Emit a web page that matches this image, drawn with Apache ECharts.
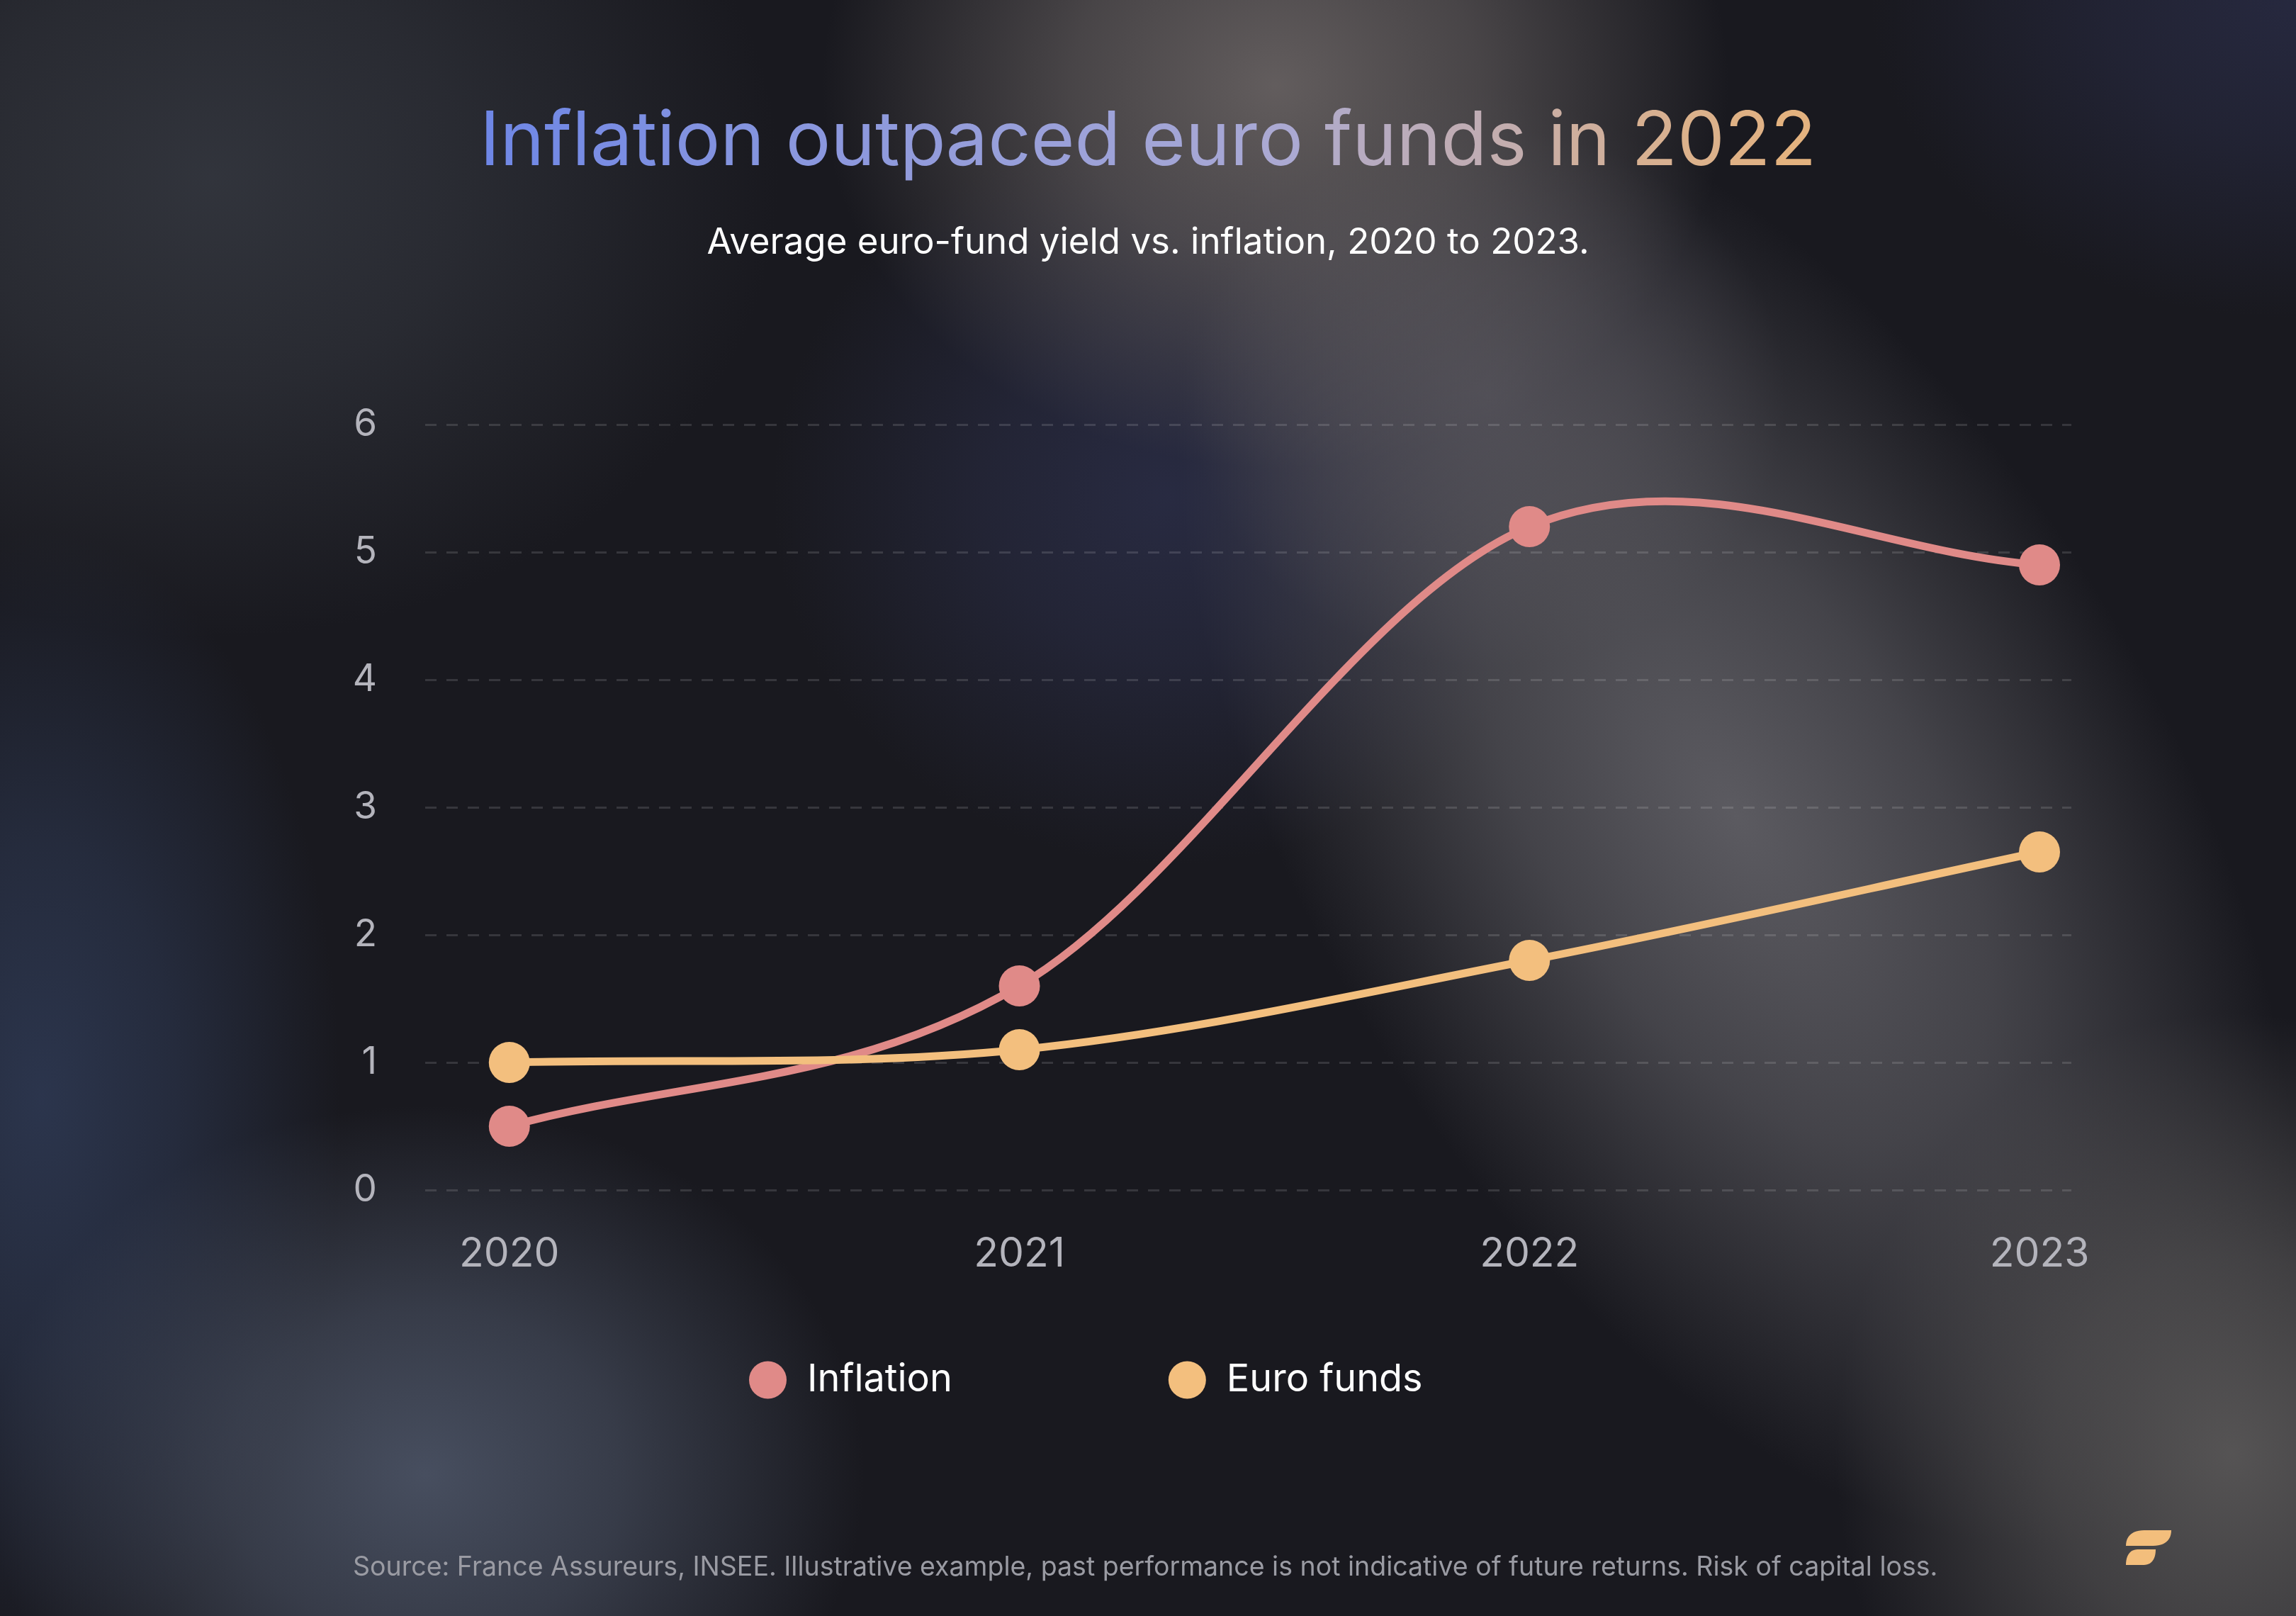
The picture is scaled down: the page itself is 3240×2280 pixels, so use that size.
<!DOCTYPE html>
<html>
<head>
<meta charset="utf-8">
<script src="https://cdn.jsdelivr.net/npm/echarts@6/dist/echarts.min.js"></script>
<style>
  html, body { margin: 0; padding: 0; background: #19191f; }
  #chart { width: 3240px; height: 2280px; }
</style>
</head>
<body>
<div id="chart"></div>
<script>
// data
const years = [2020, 2021, 2022, 2023];
const inflation = [0.5, 1.6, 5.2, 4.9];
const euroFunds = [1.0, 1.1, 1.8, 2.65];
const seriesNames = ['Inflation', 'Euro funds'];
const titleText = 'Inflation outpaced euro funds in 2022';
const subtitleText = 'Average euro-fund yield vs. inflation, 2020 to 2023.';
const sourceText = 'Source: France Assureurs, INSEE. Illustrative example, past performance is not indicative of future returns. Risk of capital loss.';

const FONT = 'Inter, "Noto Sans", sans-serif';
const PINK = '#e08a88';
const PEACH = '#f3bf7e';

// title gradient: blue -> lavender -> peach, one rich token per character
function mix(a, b, t) {
    const pa = [1, 3, 5].map(i => parseInt(a.substr(i, 2), 16));
    const pb = [1, 3, 5].map(i => parseInt(b.substr(i, 2), 16));
    return 'rgb(' + pa.map((v, i) => Math.round(v + (pb[i] - v) * t)).join(',') + ')';
}
function gradAt(t) {
    if (t < 0.6) return mix('#6f87e6', '#a9a9d4', t / 0.6);
    return mix('#a9a9d4', '#e3b27f', (t - 0.6) / 0.4);
}
let titleRich = {};
let titleStr = '';
for (let i = 0; i < titleText.length; i++) {
    const key = 'c' + i;
    titleRich[key] = { color: gradAt(i / (titleText.length - 1)), fontSize: 106, fontFamily: FONT, fontWeight: 400 };
    titleStr += '{' + key + '|' + titleText[i] + '}';
}

// soft background glows
function glow(cx, cy, rx, ry, rot, color, alpha) {
    const c = color.replace('#', '');
    const r = parseInt(c.substr(0, 2), 16), g = parseInt(c.substr(2, 2), 16), b = parseInt(c.substr(4, 2), 16);
    return {
        type: 'circle',
        silent: true,
        z: -10,
        x: cx, y: cy,
        rotation: rot,
        scaleX: rx / ry,
        shape: { cx: 0, cy: 0, r: ry },
        style: {
            fill: new echarts.graphic.RadialGradient(0.5, 0.5, 0.5, [
                { offset: 0, color: `rgba(${r},${g},${b},${alpha})` },
                { offset: 0.45, color: `rgba(${r},${g},${b},${alpha * 0.65})` },
                { offset: 1, color: `rgba(${r},${g},${b},0)` }
            ])
        }
    };
}

// logo leaf: cubic curves sampled into a polygon
function leaf(x0, y0, w, h) {
    const pts = [];
    const cub = (p0, p1, p2, p3) => {
        for (let k = 0; k <= 12; k++) {
            const t = k / 12, u = 1 - t;
            pts.push([
                u * u * u * p0[0] + 3 * u * u * t * p1[0] + 3 * u * t * t * p2[0] + t * t * t * p3[0],
                u * u * u * p0[1] + 3 * u * u * t * p1[1] + 3 * u * t * t * p2[1] + t * t * t * p3[1]
            ]);
        }
    };
    cub([x0, y0 + h], [x0, y0 + h * 0.35], [x0 + w * 0.15, y0], [x0 + w * 0.4, y0]);
    pts.push([x0 + w, y0]);
    cub([x0 + w, y0], [x0 + w, y0 + h * 0.65], [x0 + w * 0.85, y0 + h], [x0 + w * 0.6, y0 + h]);
    return {
        type: 'polygon',
        silent: true,
        shape: { points: pts },
        style: { fill: '#f3be7c' }
    };
}

// cardinal spline segment i -> i+1, positions from the axes via api.coord
function curveSeries(name, values, color, z) {
    return {
        name: name,
        type: 'custom',
        z: z,
        silent: true,
        data: years.map((y, i) => [y, values[i]]),
        encode: { x: 0, y: 1 },
        itemStyle: { color: color },
        renderItem: (params, api) => {
            const i = params.dataIndex;
            if (i >= values.length - 1) return null;
            const p = values.map((v, j) => api.coord([years[j], v]));
            const p1 = p[i], p2 = p[i + 1];
            // phantom end points mirrored so the ends start along the chord
            const p0 = i > 0 ? p[i - 1] : [2 * p1[0] - p2[0], 2 * p1[1] - p2[1]];
            const p3 = i + 2 < p.length ? p[i + 2] : [2 * p2[0] - p1[0], 2 * p2[1] - p1[1]];
            const k = 1 / 6;
            return {
                type: 'bezierCurve',
                shape: {
                    x1: p1[0], y1: p1[1], x2: p2[0], y2: p2[1],
                    cpx1: p1[0] + (p2[0] - p0[0]) * k, cpy1: p1[1] + (p2[1] - p0[1]) * k,
                    cpx2: p2[0] - (p3[0] - p1[0]) * k, cpy2: p2[1] - (p3[1] - p1[1]) * k
                },
                style: { stroke: color, lineWidth: 11, fill: null, lineCap: 'round' }
            };
        }
    };
}

var myChart = echarts.init(document.getElementById('chart'));
var option = {
    backgroundColor: '#19191f',
    animation: false,
    title: [{
        text: titleStr,
        left: 'center',
        top: 143,
        textStyle: { rich: titleRich }
    }, {
        text: subtitleText,
        left: 'center',
        top: 312,
        textStyle: { color: '#ffffff', fontSize: 51, fontFamily: FONT, fontWeight: 400 }
    }],
    legend: {
        left: 1052,
        top: 1915,
        icon: 'circle',
        itemWidth: 53,
        itemHeight: 53,
        itemGap: 305,
        data: seriesNames,
        textStyle: { color: '#ffffff', fontSize: 54, fontFamily: FONT, padding: [0, 0, 0, 24] }
    },
    grid: { left: 600, right: 317, top: 599, bottom: 601 },
    xAxis: {
        type: 'value',
        min: 2019.835,
        max: 2023.0625,
        axisLine: { show: false },
        axisTick: { show: false },
        splitLine: { show: false },
        axisLabel: {
            customValues: years,
            formatter: v => String(v),
            color: '#b4b4bc',
            fontSize: 57,
            fontFamily: FONT,
            margin: 62
        }
    },
    yAxis: {
        type: 'value',
        min: 0,
        max: 6,
        interval: 1,
        axisLine: { show: false },
        axisTick: { show: false },
        axisLabel: { color: '#b4b4bc', fontSize: 53, fontFamily: FONT, margin: 68 },
        splitLine: { lineStyle: { color: 'rgba(255,255,255,0.13)', width: 3, type: [16, 14] } }
    },
    series: [
        curveSeries(seriesNames[0], inflation, PINK, 2),
        curveSeries(seriesNames[1], euroFunds, PEACH, 3),
        {
            name: seriesNames[0],
            type: 'scatter',
            data: years.map((y, i) => [y, inflation[i]]),
            symbol: 'circle',
            symbolSize: 58,
            itemStyle: { color: PINK, opacity: 1 },
            z: 4
        }, {
            name: seriesNames[1],
            type: 'scatter',
            data: years.map((y, i) => [y, euroFunds[i]]),
            symbol: 'circle',
            symbolSize: 58,
            itemStyle: { color: PEACH, opacity: 1 },
            z: 5
        }
    ],
    graphic: [
        glow(300, 250, 800, 650, 0, '#34373f', 0.9),
        glow(3240, 0, 600, 450, 0, '#2c2f4c', 0.7),
        glow(60, 1550, 420, 800, 0, '#303c58', 0.8),
        glow(600, 2080, 620, 520, 0, '#4c5466', 0.9),
        glow(1650, 700, 560, 520, 0, '#2c2f4a', 0.8),
        glow(2100, 560, 420, 380, 0, '#55515a', 0.7),
        glow(1800, 120, 640, 540, 0, '#6a6464', 0.9),
        glow(2450, 1150, 600, 1150, 0.55, '#5f5e64', 0.95),
        glow(3150, 2050, 560, 620, 0, '#5c5a5a', 0.9),
        {
            type: 'text',
            x: 498,
            y: 2212,
            silent: true,
            style: { text: sourceText, fill: '#9a9ba3', font: '37.5px ' + FONT, textVerticalAlign: 'middle' }
        },
        leaf(3000, 2159, 64, 22),
        leaf(3000, 2186, 42, 22)
    ]
};

option && myChart.setOption(option);
window.addEventListener('resize', () => {
    myChart.resize()
})
</script>
</body>
</html>
